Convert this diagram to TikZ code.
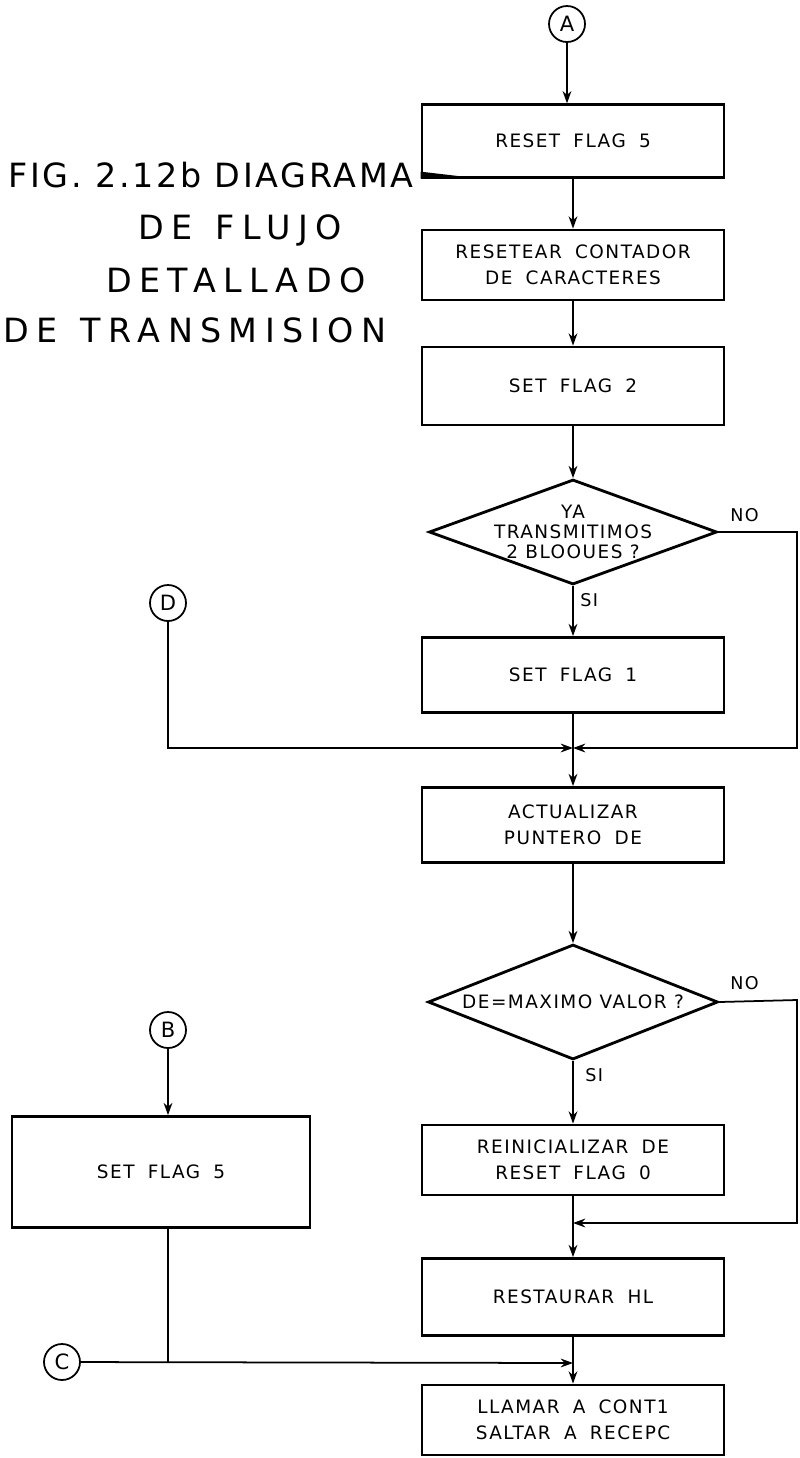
\documentclass[tikz,border=0pt]{standalone}
\usepackage{fontspec}
\setmainfont{DejaVu Sans}[LetterSpace=8, WordSpace=1.8]
\newfontfamily\titlewide{DejaVu Sans}[LetterSpace=22, WordSpace=1.3]
\newfontfamily\titlenarrow{DejaVu Sans}[LetterSpace=8]
\usetikzlibrary{shapes.geometric, arrows.meta}

\begin{document}
\begin{tikzpicture}[
    x=0.02cm, y=-0.02cm,
    >={Stealth[length=7pt, width=5pt]},
    procbox/.style={draw, rectangle, line width=1.6pt, minimum width=6.04cm, minimum height=1.45cm, align=center, inner sep=0pt, font=\fontsize{10.5}{15}\selectfont},
    decision/.style={draw, diamond, line width=1.6pt, minimum width=5.76cm, minimum height=2.1cm, inner sep=0pt},
    inside/.style={align=center, font=\fontsize{10.5}{11.5}\selectfont\titlenarrow, inner sep=0pt},
    connector/.style={draw, circle, line width=1pt, minimum size=0.72cm, inner sep=0pt, font=\fontsize{12}{12}\selectfont},
    flow/.style={->, line width=1pt},
    title/.style={font=\fontsize{19}{24}\selectfont\titlewide, inner sep=0pt},
    tag/.style={font=\fontsize{10}{12}\selectfont, inner sep=0pt}
]
    \useasboundingbox (0,0) rectangle (799,1458);

    % title
    \node[title, font=\fontsize{19}{24}\selectfont\titlenarrow] (t1) at (211,175) {FIG. 2.12b DIAGRAMA};
    \node[title] (t2) at (240,230) {DE FLUJO};
    \node[title] (t3) at (236,280) {DETALLADO};
    \node[title] (t4) at (195,330) {DE TRANSMISION};

    % main column
    \node[connector] (cA) at (567,24) {A};
    \node[procbox] (rstf5) at (573,141) {RESET FLAG 5};
    \node[procbox, minimum height=1.4cm] (rstcnt) at (573,265) {RESETEAR CONTADOR\\DE CARACTERES};
    \node[procbox, minimum height=1.56cm] (setf2) at (573,386) {SET FLAG 2};
    \node[decision, label={[inside]center:YA\\TRANSMITIMOS\\2 BLOOUES ?}] (q2blk) at (573,532) {};
    \node[procbox, minimum height=1.5cm] (setf1) at (573,675) {SET FLAG 1};
    \node[procbox, minimum height=1.5cm] (act) at (573,825) {ACTUALIZAR\\PUNTERO DE};
    \node[decision, minimum width=5.8cm, minimum height=2.3cm, label={[inside]center:DE=MAXIMO VALOR ?}] (qmax) at (573,1002) {};
    \node[procbox, minimum height=1.4cm] (reini) at (573,1160) {REINICIALIZAR DE\\RESET FLAG 0};
    \node[procbox, minimum height=1.54cm] (rsthl) at (573,1297) {RESTAURAR HL};
    \node[procbox, minimum height=1.4cm] (call) at (573,1420) {LLAMAR A CONT1\\SALTAR A RECEPC};

    % left side
    \node[connector] (cD) at (168,603) {D};
    \node[connector] (cB) at (168,1030) {B};
    \node[procbox, minimum width=5.96cm, minimum height=2.22cm] (setf5) at (161,1172) {SET FLAG 5};
    \node[connector] (cC) at (62,1362) {C};

    \coordinate (noA) at (797,532);
    \coordinate (j1) at (573,748);
    \coordinate (noB) at (797,1000);
    \coordinate (j2) at (573,1223);
    \coordinate (j3) at (573,1363);

    \node[tag, anchor=south west] (noAlbl) at (730,522) {NO};
    \node[tag, anchor=west] (siAlbl) at (580,600) {SI};
    \node[tag, anchor=south west] (noBlbl) at (730,990) {NO};
    \node[tag, anchor=west] (siBlbl) at (585,1075) {SI};

    \fill (rstf5.south west) -- ++(0,-7) -- ++(60,7) -- cycle;

    \draw[flow] (cA) -- (cA |- rstf5.north);
    \draw[flow] (rstf5) -- (rstcnt);
    \draw[flow] (rstcnt) -- (setf2);
    \draw[flow] (setf2) -- (q2blk);
    \draw[flow] (q2blk) -- (setf1);
    \draw[flow] (setf1) -- (act);
    \draw[flow] (q2blk.east) -- (noA) |- (j1);
    \draw[flow] (cD) |- (j1);
    \draw[flow] (act) -- (qmax);
    \draw[flow] (qmax) -- (reini);
    \draw[flow] (reini) -- (rsthl);
    \draw[flow] (qmax.east) -- (noB) |- (j2);
    \draw[flow] (rsthl) -- (call);
    \draw[flow] (cB) -- (cB |- setf5.north);
    \draw[line width=1pt] (cB |- setf5.south) -- (cB |- j3);
    \draw[flow] (cC) -- (j3);
\end{tikzpicture}
\end{document}
